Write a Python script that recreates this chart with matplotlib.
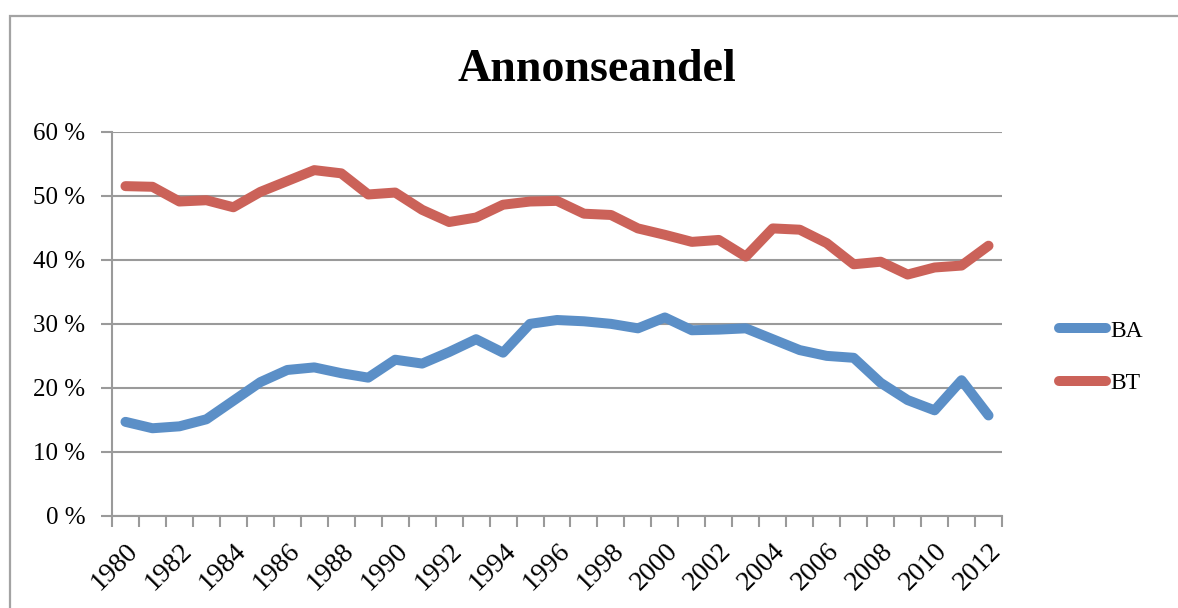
import matplotlib
matplotlib.use("Agg")
import matplotlib.pyplot as plt
from matplotlib.patches import Rectangle
import numpy as np

# Annonseandel per year
years = list(range(1980, 2013))
ba = [14.7, 13.7, 14.0, 15.1, 18.0, 20.9, 22.8, 23.2, 22.3, 21.6, 24.4,
      23.8, 25.6, 27.6, 25.5, 30.0, 30.6, 30.4, 30.0, 29.3, 31.0, 29.0,
      29.1, 29.3, 27.6, 25.9, 25.0, 24.7, 20.8, 18.1, 16.5, 21.2, 15.7]
bt = [51.5, 51.4, 49.1, 49.3, 48.2, 50.6, 52.3, 54.0, 53.5, 50.2, 50.5,
      47.8, 45.9, 46.6, 48.6, 49.1, 49.2, 47.2, 47.0, 44.9, 43.9, 42.8,
      43.1, 40.5, 44.9, 44.7, 42.6, 39.3, 39.7, 37.7, 38.8, 39.1, 42.2]
y_ticks = [0, 10, 20, 30, 40, 50, 60]

blue = "#5b8fc7"
red = "#cb6259"
grid_col = "#9a9a9a"
serif = ["Liberation Serif", "DejaVu Serif"]
plt.rcParams["font.family"] = serif

W, H = 1178, 608
fig = plt.figure(figsize=(W / 100, H / 100), dpi=100)
ax = fig.add_axes([112 / W, (H - 516) / H, (1002 - 112) / W, (516 - 131.7) / H])

x = np.arange(len(years))
ax.plot(x, ba, color=blue, lw=7.2, solid_capstyle="round", solid_joinstyle="round", label="BA", zorder=3)
ax.plot(x, bt, color=red, lw=7.2, solid_capstyle="round", solid_joinstyle="round", label="BT", zorder=3)

ax.set_xlim(-0.5, len(years) - 0.5)
ax.set_ylim(0, 60)
ax.set_yticks(y_ticks)
ax.set_yticklabels([f"{v} %" for v in y_ticks], fontsize=18)
ax.yaxis.grid(True, color=grid_col, lw=1.5)
ax.set_axisbelow(True)
ax.tick_params(axis="y", length=8, width=1.5, color=grid_col, pad=11)

# year labels at every other category, tick marks between categories
ax.set_xticks(x[::2])
ax.set_xticklabels([str(y) for y in years[::2]], fontsize=20, rotation=45,
                   ha="right", va="top", rotation_mode="anchor")
ax.set_xticks(np.arange(-0.5, len(years)), minor=True)
ax.tick_params(axis="x", which="major", length=0, pad=16)
ax.tick_params(axis="x", which="minor", length=8, width=1.5, color=grid_col)

for s in ["top", "right"]:
    ax.spines[s].set_visible(False)
for s in ["left", "bottom"]:
    ax.spines[s].set_color(grid_col)
    ax.spines[s].set_linewidth(1.5)

fig.text(597 / W, 1 - 70 / H, "Annonseandel", ha="center", va="center",
         fontsize=33, fontweight="bold")

leg = ax.legend(loc="center left", bbox_to_anchor=(1038 / W, 1 - 357 / H),
                bbox_transform=fig.transFigure, frameon=False, fontsize=17,
                handlelength=2.0, handletextpad=0.15, labelspacing=1.3)

# outer chart frame
fig.patches.append(Rectangle((10 / W, -0.1), 1.2, (H - 16) / H + 0.1,
                             transform=fig.transFigure, fill=False,
                             edgecolor="#a3a3a3", lw=1.6))

fig.savefig("out.png", dpi=100)
